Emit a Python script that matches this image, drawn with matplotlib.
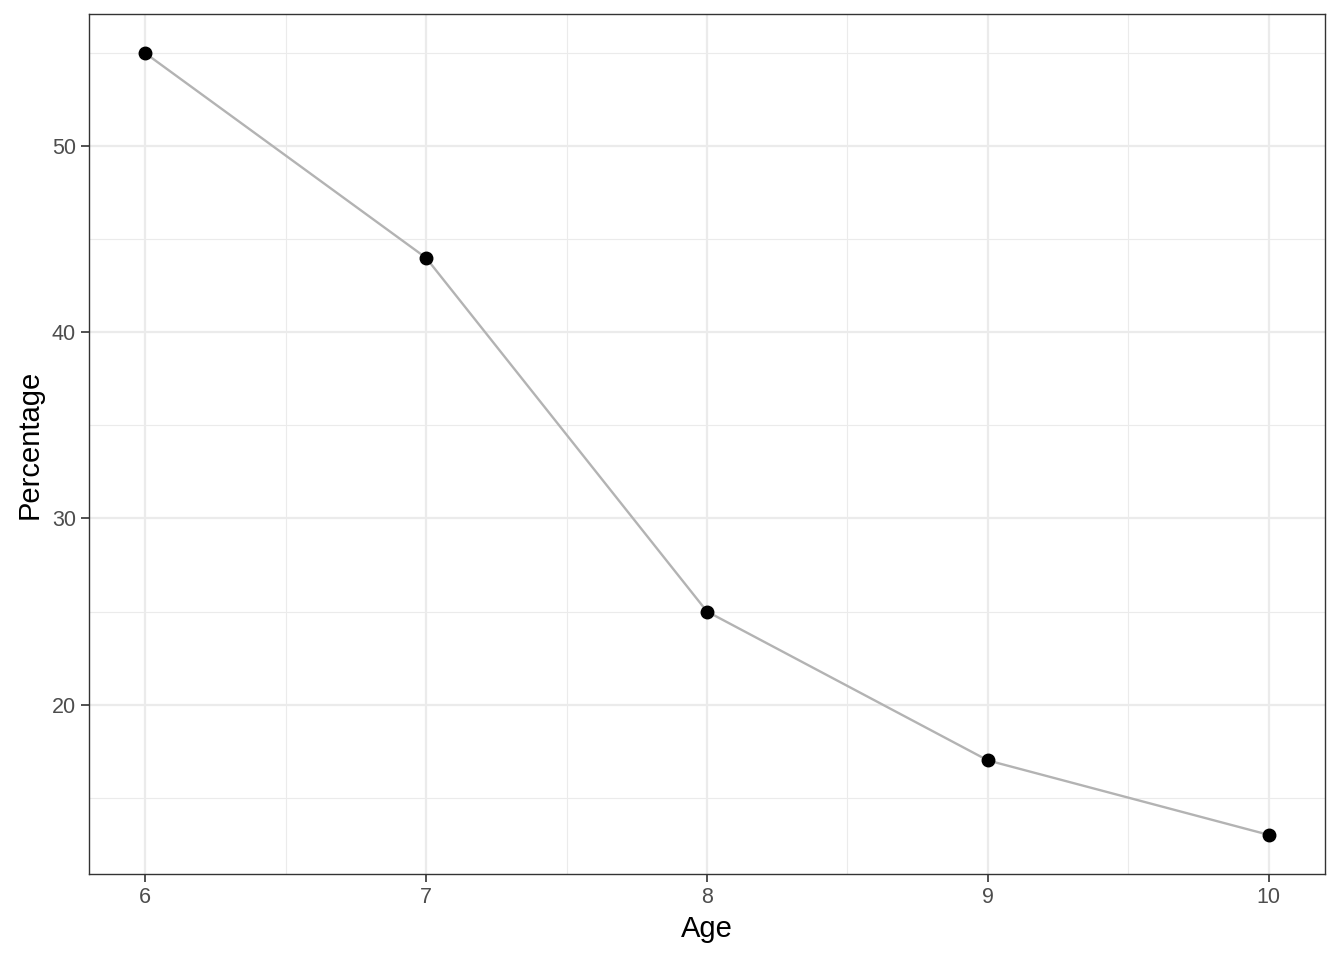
import numpy as np
import matplotlib.pyplot as plt
from matplotlib.ticker import MultipleLocator

# values
age = [6, 7, 8, 9, 10]
percentage = [55, 44, 25, 17, 13]

plt.rcParams['font.family'] = ['Liberation Sans', 'DejaVu Sans']

fig = plt.figure(figsize=(13.44, 9.6), dpi=100)
ax = fig.add_axes([0.0662, 0.0896, 0.9197, 0.8958])

# ggplot style expansion (5% each side)
xr = max(age) - min(age)
yr = max(percentage) - min(percentage)
ax.set_xlim(min(age) - 0.05 * xr, max(age) + 0.05 * xr)
ax.set_ylim(min(percentage) - 0.05 * yr, max(percentage) + 0.05 * yr)

ax.xaxis.set_major_locator(MultipleLocator(1))
ax.xaxis.set_minor_locator(MultipleLocator(0.5))
ax.yaxis.set_major_locator(MultipleLocator(10))
ax.yaxis.set_minor_locator(MultipleLocator(5))

ax.grid(which='major', color='#EBEBEB', linewidth=1.6)
ax.grid(which='minor', color='#EBEBEB', linewidth=0.8)
ax.set_axisbelow(True)

ax.plot(age, percentage, color='#B3B3B3', linewidth=1.7, zorder=2)
ax.plot(age, percentage, 'o', color='black', markersize=9, zorder=3)

for s in ax.spines.values():
    s.set_color('#333333')
    s.set_linewidth(1.0)

ax.tick_params(which='major', length=5.5, width=1.2, color='#333333',
               labelsize=15.5, labelcolor='#4D4D4D', pad=4)
ax.tick_params(which='minor', length=0)

ax.set_xlabel('Age', fontsize=21, color='black', labelpad=5)
ax.set_ylabel('Percentage', fontsize=21, color='black', labelpad=6)

fig.savefig('out.png', dpi=100)
